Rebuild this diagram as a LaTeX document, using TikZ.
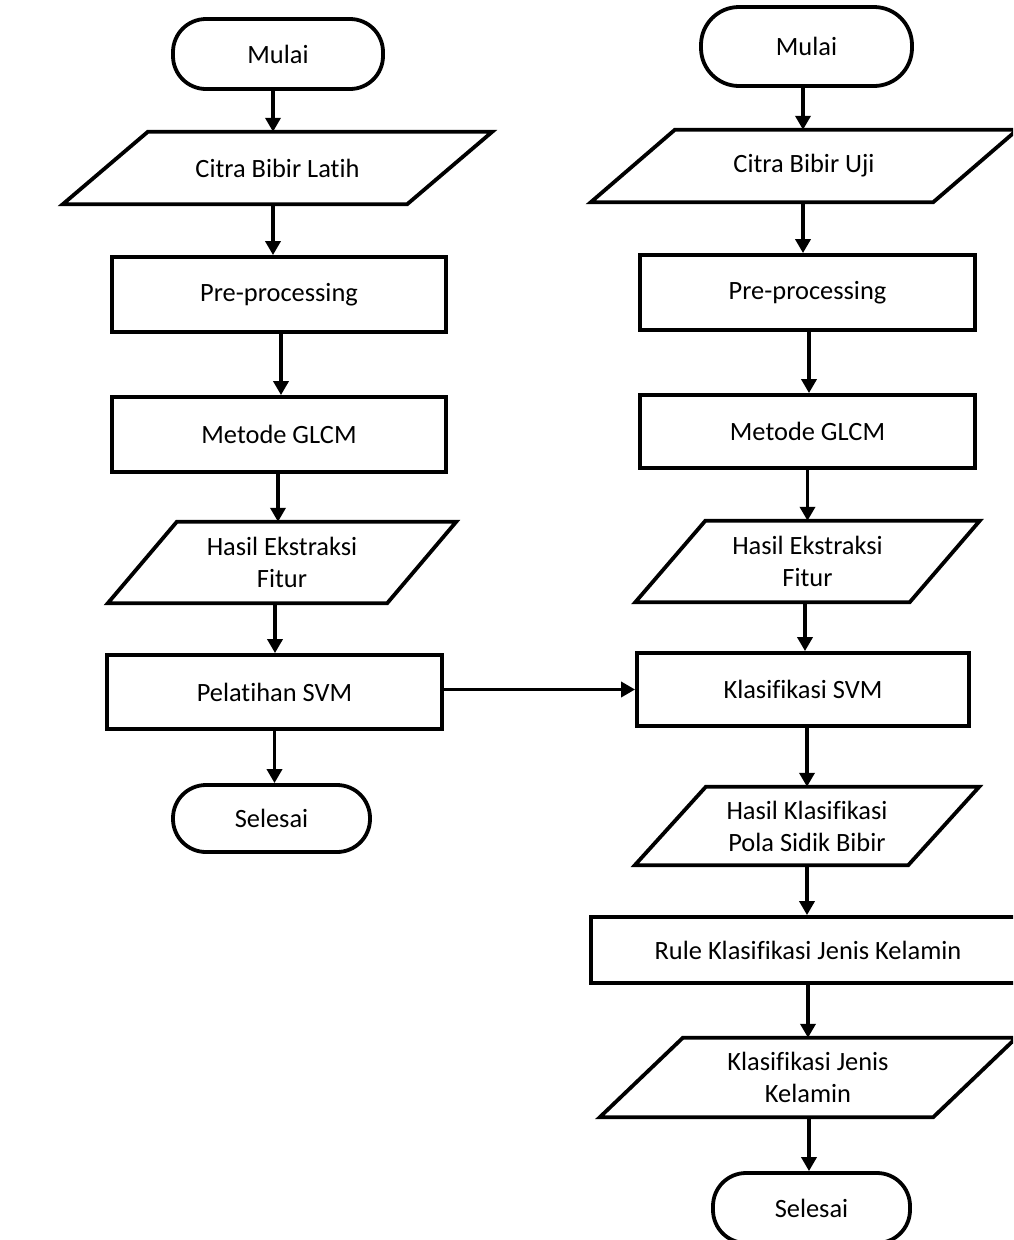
\documentclass[tikz,border=0pt]{standalone}
\usepackage{fontspec}
\setmainfont{Carlito}[Ligatures={NoCommon,NoRequired,NoContextual}]
\usetikzlibrary{arrows.meta,calc}
\begin{document}
\begin{tikzpicture}[x=1pt,y=-1pt,
  every node/.style={font=\fontsize{26.4}{32}\selectfont},
  outl/.style={draw, line width=3.8pt, line join=miter},
  base/.style={outl, inner sep=0pt, align=center},
  term/.style={base, rectangle, rounded corners=33pt},
  proc/.style={base, rectangle},
  io/.style={rectangle, inner sep=0pt, align=center},
  arr/.style={line width=3.8pt, -{Triangle[length=14pt,width=15pt]}}
]
\useasboundingbox (0,0) rectangle (1013,1240);
\fill[white] (0,0) rectangle (1013,1240);
\clip (0,0) rectangle (1013,1240);
% parallelogram outline round an io node: #1 node, #2 half skew
\newcommand\paraout[2]{%
  \draw[outl] ($(#1.south west)+(-#2,0)$) -- ($(#1.north west)+(#2,0)$)
    -- ($(#1.north east)+(#2,0)$) -- ($(#1.south east)+(-#2,0)$) -- cycle;}

% left column
\node[term, minimum width=210pt, minimum height=70pt] (mL) at (278,54) {Mulai};
\node[io, minimum width=344pt, minimum height=72pt] (cL) at (277.5,168) {Citra Bibir Latih};
\paraout{cL}{42.5}
\node[proc, minimum width=334pt, minimum height=75pt] (pL) at (279,294.5) {Pre-processing};
\node[proc, minimum width=334pt, minimum height=75pt] (gL) at (279,434.5) {Metode GLCM};
\node[io, minimum width=279pt, minimum height=81pt] (hL) at (282,562.5) {Hasil Ekstraksi\\Fitur};
\paraout{hL}{34.5}
\node[proc, minimum width=335pt, minimum height=74pt] (sL) at (274.5,692) {Pelatihan SVM};
\node[term, minimum width=197pt, minimum height=67pt] (eL) at (271.5,818.5) {Selesai};

% right column
\node[term, minimum width=211pt, minimum height=79pt, rounded corners=38pt] (mR) at (806.5,46.5) {Mulai};
\node[io, minimum width=342pt, minimum height=72pt] (cR) at (804,166) {Citra Bibir Uji};
\paraout{cR}{42}
\node[proc, minimum width=335pt, minimum height=75pt] (pR) at (807.5,292.5) {Pre-processing};
\node[proc, minimum width=335pt, minimum height=73pt] (gR) at (807.5,431.5) {Metode GLCM};
\node[io, minimum width=274pt, minimum height=81pt] (hR) at (807.5,561.5) {Hasil Ekstraksi\\Fitur};
\paraout{hR}{35}
\node[proc, minimum width=332pt, minimum height=73pt] (kR) at (803,689.5) {Klasifikasi SVM};
\node[io, minimum width=273pt, minimum height=78pt] (oR) at (807,826) {Hasil Klasifikasi\\Pola Sidik Bibir};
\paraout{oR}{35.5}
\node[proc, minimum width=434pt, minimum height=66pt] (rR) at (808,950) {Rule Klasifikasi Jenis Kelamin};
\node[io, minimum width=333pt, minimum height=79pt] (jR) at (808,1077.5) {Klasifikasi Jenis\\Kelamin};
\paraout{jR}{41.5}
\node[term, minimum width=197pt, minimum height=70pt] (eR) at (811.5,1208) {Selesai};

% left arrows
\draw[arr] ([xshift=-5pt]mL.south) -- ([xshift=-5pt]mL.south |- cL.north);
\draw[arr] ([xshift=-4.5pt]cL.south) -- ([xshift=-4.5pt]cL.south |- pL.north);
\draw[arr] ([xshift=2pt]pL.south) -- ([xshift=2pt]pL.south |- gL.north);
\draw[arr] ([xshift=-1pt]gL.south) -- ([xshift=-1pt]gL.south |- hL.north);
\draw[arr] ([xshift=-7pt]hL.south) -- ([xshift=-7pt]hL.south |- sL.north);
\draw[arr] (sL.south) -- (sL.south |- eL.north);

% cross arrow
\draw[arr] (kR.west -| sL.east) -- (kR.west);

% right arrows
\draw[arr] ([xshift=-3.5pt]mR.south) -- ([xshift=-3.5pt]mR.south |- cR.north);
\draw[arr] ([xshift=-1pt]cR.south) -- ([xshift=-1pt]cR.south |- pR.north);
\draw[arr] ([xshift=1.5pt]pR.south) -- ([xshift=1.5pt]pR.south |- gR.north);
\draw[arr] (gR.south) -- (gR.south |- hR.north);
\draw[arr] ([xshift=-2.5pt]hR.south) -- ([xshift=-2.5pt]hR.south |- kR.north);
\draw[arr] ([xshift=4pt]kR.south) -- ([xshift=4pt]kR.south |- oR.north);
\draw[arr] (oR.south) -- (oR.south |- rR.north);
\draw[arr] (rR.south) -- (rR.south |- jR.north);
\draw[arr] ([xshift=1pt]jR.south) -- ([xshift=1pt]jR.south |- eR.north);
\end{tikzpicture}
\end{document}
